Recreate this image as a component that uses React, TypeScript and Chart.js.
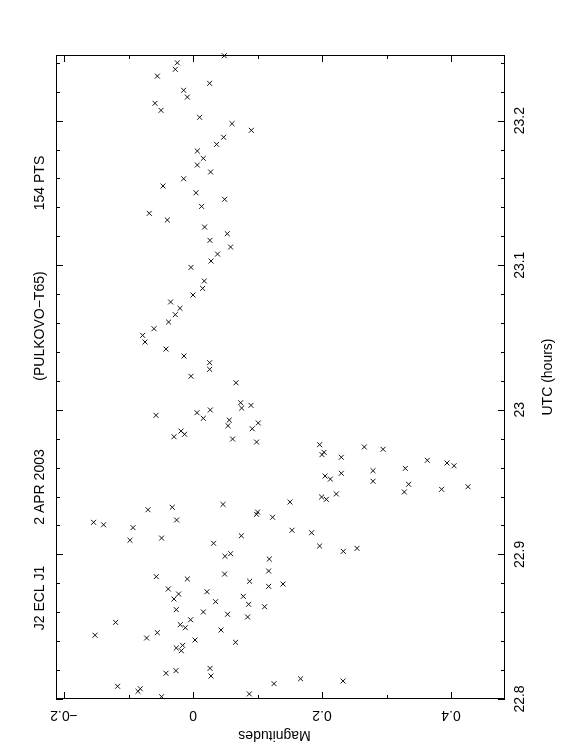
import { useEffect, useRef } from "react";
import { Chart, registerables } from "chart.js";

Chart.register(...registerables);

// UTC (hours) of each observation
const utcHours = [
  23.2449, 23.24, 23.2355, 23.2308, 23.2258, 23.221, 23.2163, 23.212, 23.2071, 23.2023,
  23.1979, 23.1933, 23.1885, 23.1836, 23.179, 23.1739, 23.1693, 23.1645, 23.1598, 23.1548,
  23.1501, 23.1456, 23.1407, 23.1359, 23.1313, 23.1264, 23.1218, 23.1172, 23.1126, 23.1077,
  23.1029, 23.0985, 23.0891, 23.084, 23.0794, 23.0746, 23.0702, 23.0658, 23.0607, 23.0561,
  23.0515, 23.0469, 23.042, 23.0372, 23.0326, 23.028, 23.0232, 23.0187, 23.0049, 23.0012,
  23.0031, 22.9962, 22.998, 22.9941, 22.9999, 22.9929, 22.989, 22.9909, 22.9869, 22.9853,
  22.9831, 22.9814, 22.9798, 22.9777, 22.9759, 22.9743, 22.9727, 22.9706, 22.969, 22.9672,
  22.9651, 22.9632, 22.9613, 22.9595, 22.9579, 22.9561, 22.9542, 22.9521, 22.9506, 22.9485,
  22.9468, 22.945, 22.9432, 22.9418, 22.9397, 22.9381, 22.9362, 22.9346, 22.9326, 22.9309,
  22.9293, 22.9277, 22.9257, 22.9238, 22.9222, 22.9205, 22.9185, 22.9167, 22.915, 22.9129,
  22.9113, 22.9098, 22.9077, 22.9058, 22.9042, 22.9021, 22.9005, 22.8987, 22.8968, 22.8885,
  22.8864, 22.8846, 22.883, 22.8814, 22.8795, 22.8779, 22.8761, 22.8742, 22.8726, 22.871,
  22.8692, 22.8673, 22.8655, 22.8638, 22.8618, 22.8602, 22.8586, 22.8567, 22.8548, 22.853,
  22.8514, 22.8493, 22.8477, 22.8459, 22.8441, 22.8422, 22.8408, 22.8392, 22.8371, 22.8353,
  22.8334, 22.8212, 22.8196, 22.8178, 22.8159, 22.814, 22.8124, 22.8106, 22.8088, 22.8071,
  22.8053, 22.8035, 22.8016,
];

// Differential magnitudes
const magnitudes = [
  0.0485, -0.0243, -0.0274, -0.0553, 0.0258, -0.0145, -0.0088, -0.0589, -0.0496, 0.0103,
  0.0605, 0.0904, 0.0475, 0.0366, 0.0067, 0.016, 0.0067, 0.0273, -0.0145, -0.0465,
  0.0047, 0.049, 0.0133, -0.0678, -0.0398, 0.018, 0.0532, 0.0263, 0.0583, 0.0381,
  0.0279, -0.0031, 0.0175, 0.0149, 0.0, -0.0347, -0.0202, -0.0274, -0.0378, -0.0605,
  -0.0781, -0.0744, -0.0419, -0.014, 0.0258, 0.0258, -0.0031, 0.0667, 0.0738, 0.0754,
  0.0899, -0.0574, 0.0062, 0.016, 0.0268, 0.0563, 0.0542, 0.1012, 0.0919, -0.0186,
  -0.013, -0.0295, 0.0614, 0.0986, 0.1963, 0.2656, 0.2946, 0.2031, 0.2, 0.2299,
  0.3633, 0.3938, 0.4047, 0.3291, 0.2791, 0.2299, 0.2047, 0.2129, 0.2791, 0.3343,
  0.4264, 0.3854, 0.3276, 0.2222, 0.1994, 0.2067, 0.1504, 0.0465, -0.0321, -0.0698,
  0.1002, 0.0986, 0.1234, -0.0254, -0.1541, -0.1386, -0.093, 0.1535, 0.1839, 0.0749,
  -0.0487, -0.0977, 0.0319, 0.1963, 0.2543, 0.233, 0.0583, 0.0496, 0.1183, 0.1173,
  0.049, -0.0569, -0.0088, 0.0878, 0.1395, 0.1173, -0.0383, 0.0217, -0.0223, 0.078,
  -0.0295, 0.035, 0.0862, 0.111, -0.0259, 0.016, 0.0536, 0.0847, -0.0037, -0.12,
  -0.0197, -0.0119, 0.0434, -0.0553, -0.1519, -0.0719, 0.0031, 0.066, -0.0161, -0.0259,
  -0.0181, 0.0264, -0.0264, -0.0419, 0.0279, 0.1668, 0.2326, 0.1256, -0.1169, -0.0817,
  -0.0853, 0.0873, -0.0487,
];

const magTickValues = [-0.2, 0, 0.2, 0.4];
const magTickLabels = ["\u22120.2", "0", "0.2", "0.4"];
const utcTickValues = [22.8, 22.9, 23, 23.1, 23.2];
const utcTickLabels = ["22.8", "22.9", "23", "23.1", "23.2"];
const titleParts = ["J2 ECL J1", "2 APR 2003", "(PULKOVO\u2212T65)", "154 PTS"];
const magAxisTitle = "Magnitudes";
const utcAxisTitle = "UTC (hours)";

const MAG_MIN = -0.2124;
const MAG_MAX = 0.4837;
const UTC_MIN = 22.8;
const UTC_MAX = 23.2454;

const FONT = "14px 'Liberation Sans', Arial, sans-serif";

const framePlugin = {
  id: "pgplotFrame",
  afterDraw(chart: any) {
    const ctx = chart.ctx as CanvasRenderingContext2D;
    const { left, right, top, bottom } = chart.chartArea;
    const xs = chart.scales.x;
    const ys = chart.scales.y;
    ctx.save();
    ctx.strokeStyle = "#000";
    ctx.lineWidth = 1;
    ctx.strokeRect(left + 0.5, top + 0.5, right - left - 1, bottom - top - 1);

    ctx.beginPath();
    // magnitude ticks (top & bottom)
    for (let k = Math.ceil(MAG_MIN * 10 - 1e-6); k <= Math.floor(MAG_MAX * 10 + 1e-6); k++) {
      const v = k / 10;
      const px = Math.round(xs.getPixelForValue(v)) + 0.5;
      const len = k % 2 === 0 ? 7 : 4;
      ctx.moveTo(px, bottom);
      ctx.lineTo(px, bottom - len);
      ctx.moveTo(px, top);
      ctx.lineTo(px, top + len);
    }
    // UTC ticks (left & right)
    for (let k = Math.ceil(UTC_MIN * 50 - 1e-6); k <= Math.floor(UTC_MAX * 50 + 1e-6); k++) {
      const v = k / 50;
      const py = Math.round(ys.getPixelForValue(v)) + 0.5;
      const len = k % 5 === 0 ? 7 : 4;
      ctx.moveTo(left, py);
      ctx.lineTo(left + len, py);
      ctx.moveTo(right, py);
      ctx.lineTo(right - len, py);
    }
    ctx.stroke();

    ctx.fillStyle = "#000";
    ctx.font = FONT;
    ctx.textAlign = "center";
    ctx.textBaseline = "middle";

    // magnitude tick labels (upside down)
    magTickValues.forEach((v, i) => {
      const px = xs.getPixelForValue(v);
      ctx.save();
      ctx.translate(px, bottom + 16);
      ctx.rotate(Math.PI);
      ctx.fillText(magTickLabels[i], 0, 0);
      ctx.restore();
    });
    ctx.save();
    ctx.translate((left + right) / 2 - 6, bottom + 36);
    ctx.rotate(Math.PI);
    ctx.fillText(magAxisTitle, 0, 0);
    ctx.restore();

    // UTC tick labels (rotated)
    utcTickValues.forEach((v, i) => {
      const py = ys.getPixelForValue(v);
      ctx.save();
      ctx.translate(right + 15, py);
      ctx.rotate(-Math.PI / 2);
      ctx.fillText(utcTickLabels[i], 0, 0);
      ctx.restore();
    });
    ctx.save();
    ctx.translate(right + 43, (top + bottom) / 2);
    ctx.rotate(-Math.PI / 2);
    ctx.fillText(utcAxisTitle, 0, 0);
    ctx.restore();

    // title pieces
    const titleY = [598, 487, 326, 183];
    titleParts.forEach((t, i) => {
      ctx.save();
      ctx.translate(left - 16, titleY[i]);
      ctx.rotate(-Math.PI / 2);
      ctx.fillText(t, 0, 0);
      ctx.restore();
    });
    ctx.restore();
  },
};

export default function App() {
  const canvasRef = useRef<HTMLCanvasElement | null>(null);

  useEffect(() => {
    if (!canvasRef.current) return;
    const points = utcHours.map((t, i) => ({ x: magnitudes[i], y: t }));
    const chart = new Chart(canvasRef.current, {
      type: "scatter",
      data: {
        datasets: [
          {
            data: points,
            pointStyle: "crossRot",
            pointRadius: 3.5,
            borderColor: "#111",
            backgroundColor: "#111",
            borderWidth: 1,
            clip: false as any,
          },
        ],
      },
      options: {
        animation: false,
        responsive: true,
        maintainAspectRatio: false,
        events: [],
        layout: { padding: { left: 56, right: 57, top: 55, bottom: 57 } },
        plugins: { legend: { display: false }, tooltip: { enabled: false } },
        scales: {
          x: { type: "linear", display: false, min: MAG_MIN, max: MAG_MAX },
          y: { type: "linear", display: false, min: UTC_MIN, max: UTC_MAX },
        },
      },
      plugins: [framePlugin],
    });
    return () => chart.destroy();
  }, []);

  return (
    <div style={{ position: "fixed", left: 0, top: 0, width: 562, height: 756, background: "#fff" }}>
      <canvas ref={canvasRef} />
    </div>
  );
}
